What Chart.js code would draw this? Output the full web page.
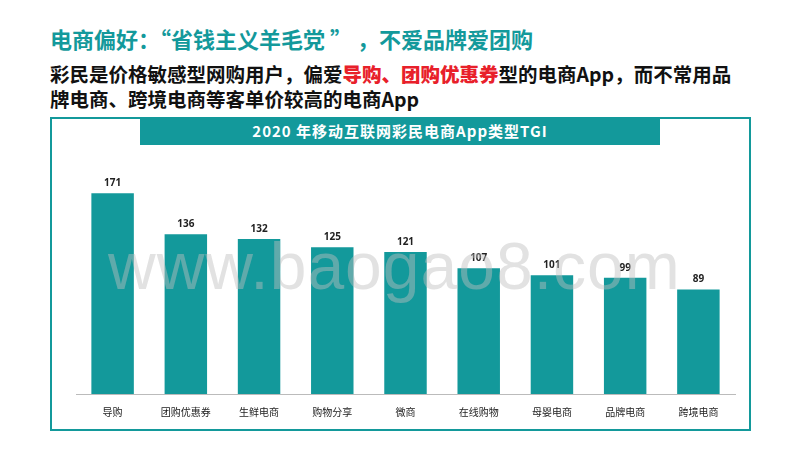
<!DOCTYPE html>
<html><head><meta charset="utf-8">
<script src="https://cdn.jsdelivr.net/npm/chart.js@4"></script>
<style>
body{margin:0;width:800px;height:450px;background:#fff;font-family:"Noto Sans CJK SC","Noto Sans",sans-serif;position:relative;overflow:hidden}
#t{position:absolute;left:50px;top:22px;font-size:22px;font-weight:bold;color:#13999b}
#s{position:absolute;left:50px;top:61px;font-size:19.5px;font-weight:bold;color:#111;line-height:25px;width:694px}
#s b{color:#e8202a}
#box{position:absolute;left:50px;top:117px;width:697px;height:310px;border:2px solid #13999b}
#hd{position:absolute;left:140px;top:117px;width:520px;height:28px;background:#13999b;color:#fff;font-weight:bold;font-size:15px;text-align:center;line-height:28px;letter-spacing:1px}
#c{position:absolute;left:52px;top:145px}
#wm{position:absolute;left:108px;top:228px;font-family:"Liberation Sans",sans-serif;font-size:66px;color:rgba(190,190,190,0.45);letter-spacing:1px;pointer-events:none}
</style></head><body>
<div id="t">电商偏好：“省钱主义羊毛党 ” ，不爱品牌爱团购</div>
<div id="s">彩民是价格敏感型网购用户，偏爱<b>导购、团购优惠券</b>型的电商App，而不常用品牌电商、跨境电商等客单价较高的电商App</div>
<div id="box"></div>
<div id="hd">2020 年移动互联网彩民电商App类型TGI</div>
<canvas id="c" width="697" height="280"></canvas>
<div id="wm">www.baogao8.com</div>
<script>
const categories = ['导购', '团购优惠券', '生鲜电商', '购物分享', '微商', '在线购物', '母婴电商', '品牌电商', '跨境电商'];
const tgiValues = [171, 136, 132, 125, 121, 107, 101, 99, 89];

const barLabels = {
  id: 'barLabels',
  afterDatasetsDraw(chart) {
    const { ctx } = chart;
    ctx.save();
    ctx.font = 'bold 10px "Noto Sans", sans-serif';
    ctx.fillStyle = '#222';
    ctx.textAlign = 'center';
    chart.getDatasetMeta(0).data.forEach((bar, i) => {
      ctx.fillText(tgiValues[i], bar.x, bar.y - 7);
    });
    ctx.restore();
  },
};

new Chart(document.getElementById('c'), {
  type: 'bar',
  data: {
    labels: categories,
    datasets: [{ data: tgiValues, backgroundColor: '#13999b', barPercentage: 0.58, categoryPercentage: 1 }],
  },
  options: {
    responsive: false,
    animation: false,
    layout: { padding: { left: 24, right: 14, top: 0, bottom: 3 } },
    plugins: { legend: { display: false }, tooltip: { enabled: false } },
    scales: {
      y: { display: false, min: 0, max: 212 },
      x: {
        grid: { display: false },
        border: { color: '#bbb' },
        ticks: { color: '#222', font: { size: 10, family: '"Noto Sans CJK SC"' }, padding: 4 },
      },
    },
  },
  plugins: [barLabels],
});
</script>
</body></html>
